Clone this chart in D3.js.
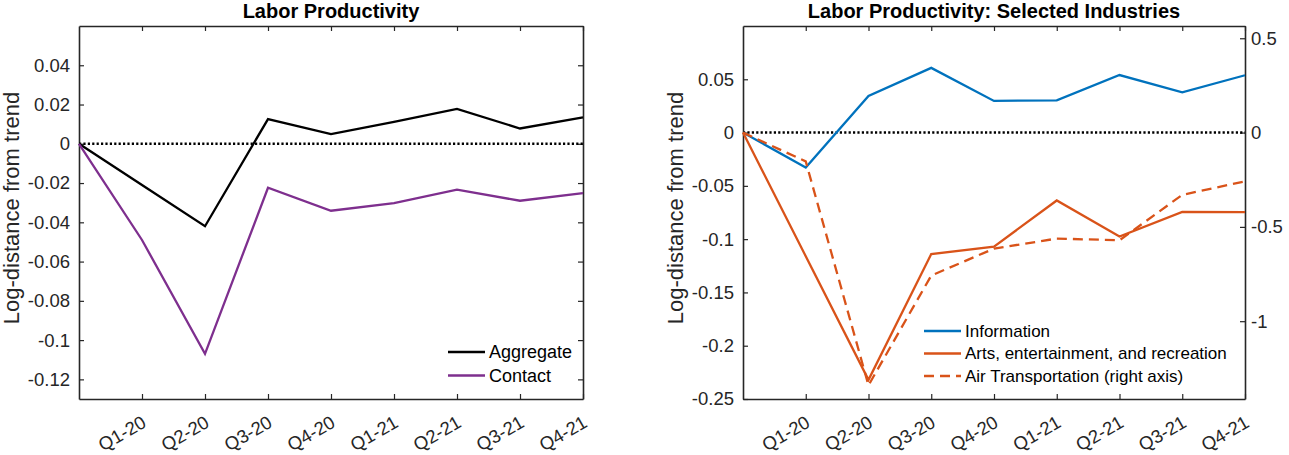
<!DOCTYPE html>
<html>
<head>
<meta charset="utf-8">
<script src="https://cdn.jsdelivr.net/npm/d3@7"></script>
<style>
body { margin: 0; background: #fff; }
svg { font-family: "Liberation Sans", Arial, Helvetica, sans-serif; }
</style>
</head>
<body>
<svg id="chart" width="1289" height="455"></svg>
<script>
// quarters; the first one is the base period and carries no label
const periods = ["Q4-19", "Q1-20", "Q2-20", "Q3-20", "Q4-20", "Q1-21", "Q2-21", "Q3-21", "Q4-21"];
const tickLabels = periods.slice(1);

// left panel
const aggregate = [0, -0.021, -0.042, 0.0126, 0.0049, 0.0112, 0.0178, 0.0078, 0.0134];
const contact = [0, -0.049, -0.107, -0.0224, -0.0341, -0.0302, -0.0234, -0.029, -0.0251];
const leftYTicks = [-0.12, -0.1, -0.08, -0.06, -0.04, -0.02, 0, 0.02, 0.04];

// right panel
const information = [0, -0.0328, 0.0344, 0.0607, 0.0297, 0.0303, 0.054, 0.0378, 0.0538];
const arts = [0, -0.116, -0.232, -0.114, -0.107, -0.0637, -0.0975, -0.0744, -0.0747];
const airTransport = [0, -0.153, -1.34, -0.758, -0.615, -0.562, -0.571, -0.33, -0.259];
const rightYTicks = [-0.25, -0.2, -0.15, -0.1, -0.05, 0, 0.05];
const rightY2Ticks = [-1, -0.5, 0, 0.5];

const ink = "#262626";
const cols = { black: "#000000", purple: "#7E2F8E", blue: "#0072BD", orange: "#D95319" };

const svg = d3.select("#chart");
const plotTop = 26, plotBottom = 399;
const fmt = d => String(d);

function drawAxes(g, x, y, opts) {
    g.append("g")
        .attr("transform", `translate(0,${plotBottom})`)
        .call(d3.axisBottom(x).tickValues(tickLabels).tickSize(-5).tickSizeOuter(0))
        .call(a => a.selectAll("text")
            .attr("y", 0).attr("dy", 0)
            .attr("text-anchor", "end")
            .attr("transform", "translate(5,27) rotate(-30)"));
    g.append("g")
        .attr("transform", `translate(0,${plotTop})`)
        .call(d3.axisTop(x).tickValues(tickLabels).tickSize(-5).tickSizeOuter(0).tickFormat(""));
    g.append("g")
        .attr("transform", `translate(${x.range()[0]},0)`)
        .call(d3.axisLeft(y).tickValues(opts.leftTicks).tickSize(-5).tickSizeOuter(0).tickPadding(9).tickFormat(fmt));
    g.append("g")
        .attr("transform", `translate(${x.range()[1]},0)`)
        .call(opts.y2
            ? d3.axisRight(opts.y2).tickValues(opts.rightTicks).tickSize(-5).tickSizeOuter(0).tickPadding(6).tickFormat(fmt)
            : d3.axisRight(y).tickValues(opts.leftTicks).tickSize(-5).tickSizeOuter(0).tickFormat(""));

    g.selectAll(".tick line").attr("stroke", ink).attr("stroke-width", 1.2);
    g.selectAll(".domain").attr("stroke", ink).attr("stroke-width", 1.6);
    g.selectAll(".tick text").attr("fill", ink).style("font-size", "18.5px");
    g.selectAll("g").attr("font-family", null).attr("font-size", null);

    // zero reference
    g.append("line")
        .attr("x1", x.range()[0]).attr("x2", x.range()[1])
        .attr("y1", y(0)).attr("y2", y(0))
        .attr("stroke", "#000").attr("stroke-width", 2.4)
        .attr("stroke-dasharray", "2.2,2.2");

    const xm = x.range()[0] - 60;
    g.append("text")
        .attr("transform", `translate(${xm},208) rotate(-90)`)
        .attr("text-anchor", "middle")
        .attr("fill", ink)
        .style("font-size", "22px")
        .text("Log-distance from trend");

    g.append("text")
        .attr("x", (x.range()[0] + x.range()[1]) / 2)
        .attr("y", 18)
        .attr("text-anchor", "middle")
        .attr("fill", "#000")
        .style("font-size", "20px")
        .style("font-weight", "bold")
        .text(opts.title);
}

function drawLine(g, x, y, vals, colour, dash) {
    g.append("path")
        .datum(vals)
        .attr("fill", "none")
        .attr("stroke", colour)
        .attr("stroke-width", 2.3)
        .attr("stroke-linejoin", "miter")
        .attr("stroke-dasharray", dash || null)
        .attr("d", d3.line().x((d, i) => x(periods[i])).y(d => y(d)));
}

function drawLegend(g, items, lx, ly, gap) {
    items.forEach((it, i) => {
        const yy = ly + i * gap;
        g.append("line")
            .attr("x1", lx).attr("x2", lx + 37)
            .attr("y1", yy).attr("y2", yy)
            .attr("stroke", it.colour).attr("stroke-width", 2.3)
            .attr("stroke-dasharray", it.dash || null);
        g.append("text")
            .attr("x", lx + 41).attr("y", yy)
            .attr("dy", "0.35em")
            .attr("fill", "#000")
            .style("font-size", it.size)
            .text(it.name);
    });
}

// ---- left: Labor Productivity
const gl = svg.append("g");
const xl = d3.scalePoint(periods, [79, 583]);
const yl = d3.scaleLinear([-0.13, 0.06], [plotBottom, plotTop]);
drawAxes(gl, xl, yl, { leftTicks: leftYTicks, title: "Labor Productivity" });
drawLine(gl, xl, yl, aggregate, cols.black);
drawLine(gl, xl, yl, contact, cols.purple);
drawLegend(gl, [
    { name: "Aggregate", colour: cols.black, size: "18px" },
    { name: "Contact", colour: cols.purple, size: "18px" }
], 448, 352, 23.5);

// ---- right: selected industries, air transport on its own axis
const gr = svg.append("g");
const xr = d3.scalePoint(periods, [743, 1245]);
const yr = d3.scaleLinear([-0.25, 0.1], [plotBottom, plotTop]);
const k = 5.65;
const yr2 = d3.scaleLinear([-0.25 * k, 0.1 * k], [plotBottom, plotTop]);
drawAxes(gr, xr, yr, {
    leftTicks: rightYTicks, y2: yr2, rightTicks: rightY2Ticks,
    title: "Labor Productivity: Selected Industries"
});
drawLine(gr, xr, yr, information, cols.blue);
drawLine(gr, xr, yr, arts, cols.orange);
drawLine(gr, xr, yr2, airTransport, cols.orange, "10,6");
drawLegend(gr, [
    { name: "Information", colour: cols.blue, size: "17px" },
    { name: "Arts, entertainment, and recreation", colour: cols.orange, size: "17px" },
    { name: "Air Transportation (right axis)", colour: cols.orange, size: "17px", dash: "10,6" }
], 924, 331, 22.5);
</script>
</body>
</html>
